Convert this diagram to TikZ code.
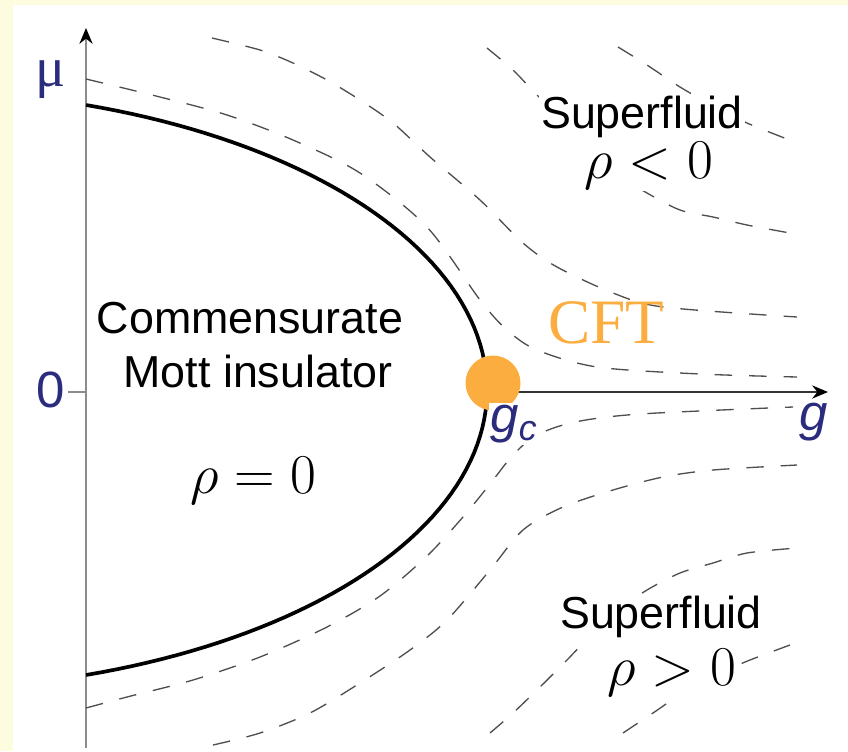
\documentclass[tikz,border=0pt]{standalone}
\usepackage{fix-cm}
\usepackage{fontspec}
\setmainfont{Liberation Sans}
\newfontfamily\cftfont{Liberation Serif}
\usetikzlibrary{arrows.meta}
\definecolor{pdNavy}{HTML}{2B2C7E}
\definecolor{pdOrange}{HTML}{FBAE3F}
\definecolor{pdDash}{HTML}{4E4E4E}
\definecolor{pdAxis}{HTML}{8C8C8C}
\definecolor{pdBack}{HTML}{FEFCDF}

\tikzset{
  flowline/.style={pdDash,line width=0.75pt,dash pattern=on 0.35cm off 0.34cm},
  axistip/.style={-{Stealth[length=9pt,width=7.5pt,color=black]}},
  phaselabel/.style={anchor=base,fill=white,inner sep=1pt,font=\fontsize{25.5}{30}\selectfont},
  mathlabel/.style={anchor=base,fill=white,inner sep=1pt,font=\fontsize{32}{36}\selectfont},
  axislabel/.style={pdNavy,inner sep=1pt,font=\fontsize{29}{32}\selectfont},
}

\begin{document}
\begin{tikzpicture}[x=0.02cm,y=-0.02cm]
  % fond
  \fill[pdBack] (0,0) rectangle (848,751);
  \fill[white] (13,5) rectangle (848,751);
  \useasboundingbox (0,0) rectangle (848,751);
  % axes
  \coordinate (mubot) at (86,748);
  \coordinate (mutop) at (86,28);
  \coordinate (gc) at (493,392);
  \coordinate (gend) at (828,392);
  \coordinate (zerotick) at (68,392);
  \draw[pdAxis,line width=1pt,axistip] (mubot) -- (mutop);
  \draw[pdAxis,line width=1pt] (zerotick) -- (86,392);
  \draw[black!80,line width=1pt,axistip] (gc) -- (gend);
  % lignes de flot (au-dessus)
  \draw[flowline] plot[smooth] coordinates {(86,79) (160,97) (227,115) (293,140) (360,173) (427,227) (480,300) (507,330) (537,350) (597,367) (700,374) (797,377)};
  \draw[flowline] plot[smooth] coordinates {(212,38) (260,50) (293,63) (327,80) (360,100) (393,123) (430,157) (480,200) (523,243) (557,267) (613,293) (663,307) (797,317)};
  \draw[flowline] plot[smooth] coordinates {(487,48) (513,70) (537,95) (580,137) (623,177) (647,193) (680,210) (713,217) (747,225) (790,233)};
  \draw[flowline] plot[smooth] coordinates {(618,47) (647,65) (680,87) (715,107) (747,123) (787,139)};
  % lignes de flot (en dessous)
  \draw[flowline] plot[smooth] coordinates {(86,708) (127,697) (193,680) (260,657) (327,627) (380,596) (427,556) (463,517) (490,484) (513,455) (537,435) (575,422) (640,414) (793,407)};
  \draw[flowline] plot[smooth] coordinates {(213,745) (260,733) (310,713) (360,683) (410,650) (447,620) (490,570) (523,530) (563,507) (613,490) (663,477) (713,470) (797,465)};
  \draw[flowline] plot[smooth] coordinates {(490,733) (513,713) (540,687) (567,660) (593,633) (620,609) (647,590) (680,573) (713,563) (747,553) (797,548)};
  \draw[flowline] plot[smooth] coordinates {(623,733) (653,713) (687,690) (720,673) (750,660) (790,645)};
  % frontiere de l'isolant de Mott
  \draw[black,line width=2.1pt] plot[domain=71.8:-71.8,samples=90] ({-96+583*cos(\x)},{390-300*sin(\x)});
  % point critique
  \node[circle,fill=pdOrange,minimum size=1.1cm,inner sep=0pt] (qcp) at (493,383) {};
  \node[pdOrange,anchor=base,inner sep=0pt,font=\cftfont\fontsize{36}{40}\selectfont] (cft) at (606,343) {CFT};
  % etiquettes des axes
  \node[axislabel,font=\cftfont\fontsize{32}{34}\selectfont] (mulab) at (51,80) {μ};
  \node[axislabel] (zerolab) at (51,390) {0};
  \node[axislabel,fill=white,font=\fontsize{29}{30}\selectfont\itshape] (gclab) at (514,424) {g\textsubscript{c}};
  \node[axislabel,font=\fontsize{29}{30}\selectfont\itshape] (glab) at (814,422) {g};
  % phases
  \node[phaselabel] (commens) at (250,333) {Commensurate};
  \node[phaselabel] (mott) at (258,387) {Mott insulator};
  \node[mathlabel] (rhozero) at (253,493) {$\rho=0$};
  \node[phaselabel] (sfup) at (642,128) {Superfluid};
  \node[mathlabel] (rhoneg) at (649,178) {$\rho<0$};
  \node[phaselabel] (sfdown) at (661,628) {Superfluid};
  \node[mathlabel] (rhopos) at (672,685) {$\rho>0$};
\end{tikzpicture}
\end{document}
